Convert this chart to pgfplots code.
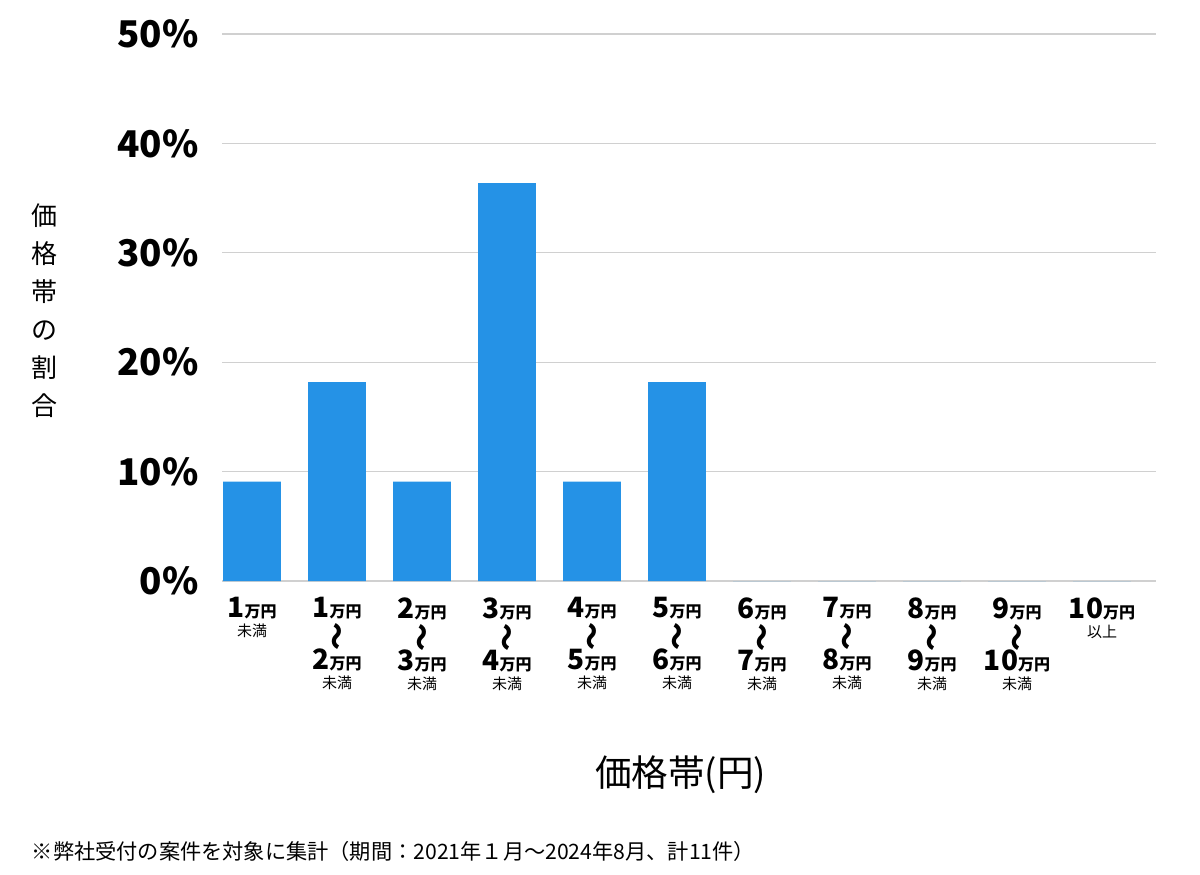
\documentclass[border=0pt]{standalone}
\usepackage{pgfplots}
\pgfplotsset{compat=1.18}
\usepackage{graphicx}
\usepackage{fontspec}
\setmainfont{Noto Sans CJK JP}
\definecolor{barblue}{HTML}{2592E6}
\definecolor{gridgray}{HTML}{D0D0D0}
\newcommand{\man}[1]{{\fontsize{14}{13}\selectfont\bfseries #1}{\fontsize{8}{13}\selectfont\bfseries 万円}}
\newcommand{\wave}{\hbox to 0pt{\hss\kern3pt\raisebox{-3.5pt}[0pt][0pt]{\rotatebox{90}{\fontsize{14}{14}\selectfont\bfseries 〜}}\hss}}
\newcommand{\mm}{{\fontsize{7.5}{9}\selectfont 未満}}
\newcommand{\ijo}{{\fontsize{7.5}{9}\selectfont 以上}}
\begin{document}
\begin{tikzpicture}
\path[use as bounding box] (0,0) rectangle (600pt,437pt);
\begin{axis}[
  at={(111pt,146.5pt)}, anchor=south west,
  scale only axis, width=467pt, height=273.5pt,
  xmin=-0.353, xmax=10.635, ymin=0, ymax=50,
  axis line style={draw=none},
  major tick length=0pt,
  ymajorgrids, grid style={gridgray, line width=0.6pt},
  ytick={0,10,20,30,40,50},
  yticklabels={0\%,10\%,20\%,30\%,40\%,50\%},
  yticklabel style={font=\fontsize{18.4}{19}\selectfont\bfseries, inner sep=0pt, anchor=east, xshift=-11.5pt},
  xtick={0,...,10},
  xticklabels={
    {\man{1}\\[-3.5pt]\mm},
    {\man{1}\\\wave\\\man{2}\\[-3.5pt]\mm},
    {\man{2}\\\wave\\\man{3}\\[-3.5pt]\mm},
    {\man{3}\\\wave\\\man{4}\\[-3.5pt]\mm},
    {\man{4}\\\wave\\\man{5}\\[-3.5pt]\mm},
    {\man{5}\\\wave\\\man{6}\\[-3.5pt]\mm},
    {\man{6}\\\wave\\\man{7}\\[-3.5pt]\mm},
    {\man{7}\\\wave\\\man{8}\\[-3.5pt]\mm},
    {\man{8}\\\wave\\\man{9}\\[-3.5pt]\mm},
    {\man{9}\\\wave\\\man{10}\\[-3.5pt]\mm},
    {\man{10}\\[-3.5pt]\ijo}},
  xticklabel style={font=\fontsize{14}{13}\selectfont, align=center, anchor=north, inner sep=0pt, yshift=-8pt},
  xlabel={価格帯(円)},
  xlabel style={font=\fontsize{18.3}{18}\selectfont, at={(axis description cs:0.491,-0.355)}, anchor=center},
  ylabel={\fontsize{13}{19}\selectfont\begin{tabular}{@{}c@{}}価\\格\\帯\\の\\割\\合\end{tabular}},
  ylabel style={rotate=-90, at={(axis description cs:-0.19,0.49)}, anchor=center},
  clip=false,
]
\addplot[ybar, bar width=0.68, fill=barblue, draw=none] coordinates {
 (0,9.09) (1,18.18) (2,9.09) (3,36.36) (4,9.09) (5,18.18)
 (6,0) (7,0) (8,0) (9,0) (10,0)};
\node[anchor=west, font=\fontsize{10.6}{10}\selectfont] at (axis description cs:-0.211,-0.495) {※弊社受付の案件を対象に集計（期間：2021年１月〜2024年8月、計11件）};
\end{axis}
\end{tikzpicture}
\end{document}
